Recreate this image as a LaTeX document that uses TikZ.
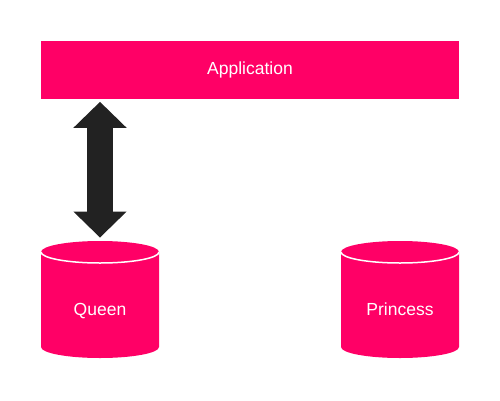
\documentclass[tikz,border=0pt]{standalone}
\usepackage{fontspec}
\setmainfont{Liberation Sans}
\usepackage{tikz}
\usetikzlibrary{arrows.meta}

\definecolor{hotpink}{HTML}{FF0066}
\definecolor{arrowgrey}{HTML}{222222}

\tikzset{
  appbox/.style={fill=hotpink, text=white, minimum width=418pt, minimum height=58pt, inner sep=0pt, font=\fontsize{17.5}{20}\selectfont},
  dbcyl/.style={minimum width=118pt, minimum height=137pt, inner sep=0pt, text=white, text height=12.5pt, text depth=0pt, font=\fontsize{17.5}{20}\selectfont,
    path picture={
      \fill[hotpink] ([yshift=-11pt]path picture bounding box.north west)
        -- ([yshift=31pt]path picture bounding box.south west)
        arc[start angle=180, end angle=360, x radius=59pt, y radius=11pt]
        -- ([yshift=-11pt]path picture bounding box.north east)
        arc[start angle=0, end angle=180, x radius=59pt, y radius=11pt] -- cycle;
      \draw[white, line width=1.5pt] ([yshift=-11pt]path picture bounding box.north west)
        arc[start angle=180, end angle=360, x radius=59pt, y radius=11pt];
    }},
  bigarrow/.style={arrowgrey, line width=26.6pt, shorten <=2.7pt, shorten >=3.3pt,
    {Triangle[width=53.4pt, length=26pt, line width=0pt]}-{Triangle[width=53.4pt, length=26pt, line width=0pt]}}
}

\begin{document}
\begin{tikzpicture}[x=1pt, y=1pt]
\useasboundingbox (0,0) rectangle (500,400);
\node[appbox] (app) at (250,330) {Application};
\node[dbcyl] (queen) at (100,90.5) {Queen};
\node[dbcyl] (princess) at (400,90.5) {Princess};
\draw[bigarrow] (queen.north |- app.south) -- (queen.north);
\end{tikzpicture}
\end{document}
